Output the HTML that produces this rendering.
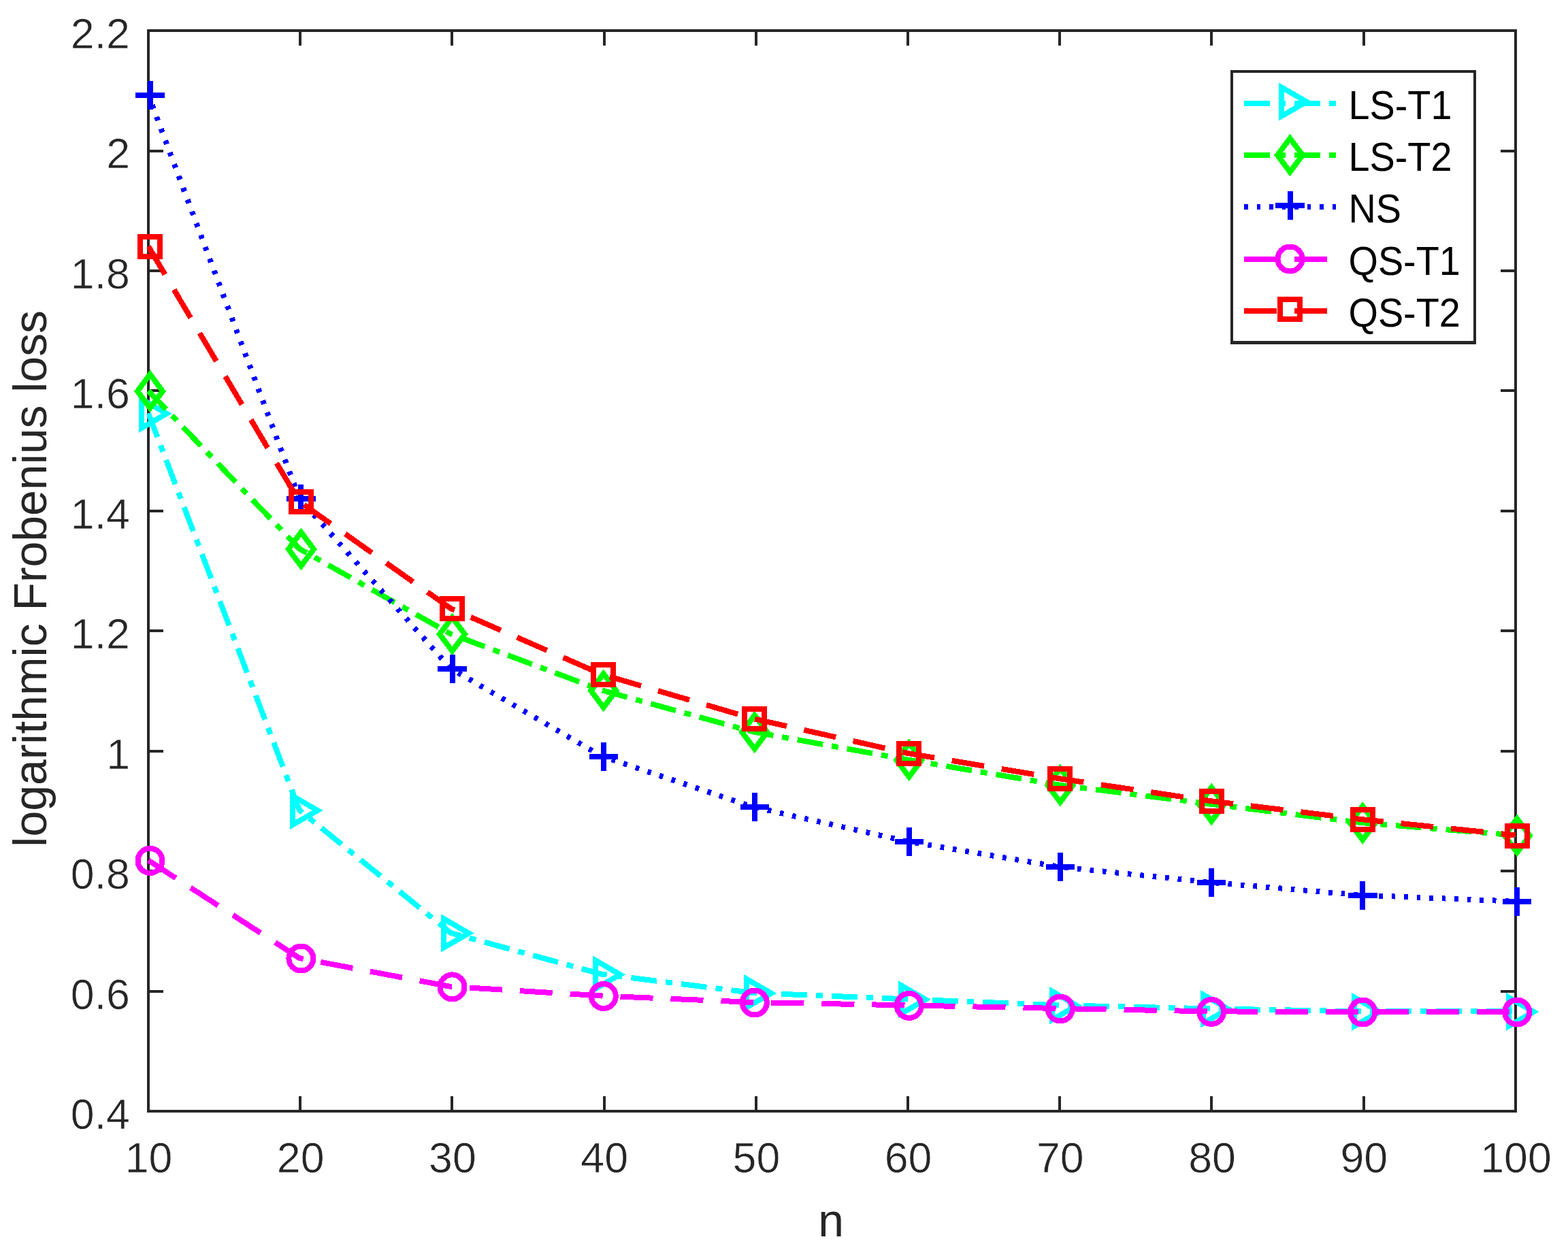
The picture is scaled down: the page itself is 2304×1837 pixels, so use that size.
<!DOCTYPE html>
<html lang="en"><head><meta charset="utf-8"><title>logarithmic Frobenius loss vs n</title>
<style>html,body{margin:0;padding:0;background:#fff}body{width:2304px;height:1837px;overflow:hidden}svg{display:block}text{font-family:"Liberation Sans",Arial,Helvetica,sans-serif}</style>
</head><body>
<svg width="2304" height="1837" viewBox="0 0 2304 1837">
<rect x="0" y="0" width="2304" height="1837" fill="#ffffff"/>
<g stroke="#262626" stroke-width="4" fill="none" shape-rendering="crispEdges">
<rect x="218" y="45" width="2009" height="1588"/>
<path d="M441 1633V1611M441 45V67M664 1633V1611M664 45V67M888 1633V1611M888 45V67M1111 1633V1611M1111 45V67M1334 1633V1611M1334 45V67M1557 1633V1611M1557 45V67M1780 1633V1611M1780 45V67M2004 1633V1611M2004 45V67M218 1457H240M2227 1457H2205M218 1280H240M2227 1280H2205M218 1104H240M2227 1104H2205M218 927H240M2227 927H2205M218 751H240M2227 751H2205M218 574H240M2227 574H2205M218 398H240M2227 398H2205M218 222H240M2227 222H2205"/>
</g>
<g fill="#262626" font-size="62.7" stroke="#ffffff" stroke-width="0.6" stroke-linejoin="round">
<text transform="translate(218.5 1723) scale(1 1.01)" text-anchor="middle">10</text>
<text transform="translate(441.72 1723) scale(1 1.01)" text-anchor="middle">20</text>
<text transform="translate(664.94 1723) scale(1 1.01)" text-anchor="middle">30</text>
<text transform="translate(888.17 1723) scale(1 1.01)" text-anchor="middle">40</text>
<text transform="translate(1111.39 1723) scale(1 1.01)" text-anchor="middle">50</text>
<text transform="translate(1334.61 1723) scale(1 1.01)" text-anchor="middle">60</text>
<text transform="translate(1557.83 1723) scale(1 1.01)" text-anchor="middle">70</text>
<text transform="translate(1781.06 1723) scale(1 1.01)" text-anchor="middle">80</text>
<text transform="translate(2004.28 1723) scale(1 1.01)" text-anchor="middle">90</text>
<text transform="translate(2227.5 1723) scale(1 1.01)" text-anchor="middle">100</text>
<text transform="translate(191 1659) scale(1 1.01)" text-anchor="end">0.4</text>
<text transform="translate(191 1482.56) scale(1 1.01)" text-anchor="end">0.6</text>
<text transform="translate(191 1306.11) scale(1 1.01)" text-anchor="end">0.8</text>
<text transform="translate(191 1129.67) scale(1 1.01)" text-anchor="end">1</text>
<text transform="translate(191 953.22) scale(1 1.01)" text-anchor="end">1.2</text>
<text transform="translate(191 776.78) scale(1 1.01)" text-anchor="end">1.4</text>
<text transform="translate(191 600.33) scale(1 1.01)" text-anchor="end">1.6</text>
<text transform="translate(191 423.89) scale(1 1.01)" text-anchor="end">1.8</text>
<text transform="translate(191 247.44) scale(1 1.01)" text-anchor="end">2</text>
<text transform="translate(191 71) scale(1 1.01)" text-anchor="end">2.2</text>
</g>
<g fill="#262626" font-size="67.9" text-anchor="middle">
<text transform="translate(1221 1817) scale(1 1.02)">n</text>
<text transform="translate(68 850.3) rotate(-90) scale(1 1.02)">logarithmic Frobenius loss</text>
</g>
<defs><clipPath id="ax"><rect x="216" y="43" width="2013" height="1592"/></clipPath></defs>
<g shape-rendering="crispEdges">
<polyline clip-path="url(#ax)" points="218,607.3 439.9,1190.5 662,1370.9 884.3,1431.7 1106.3,1459.1 1333.3,1468.4 1555.4,1477.3 1777.7,1482.3 1999.8,1486.4 2226.7,1486.4" fill="none" stroke="#00ffff" stroke-width="8" stroke-dasharray="38.03 13 10 13" stroke-dashoffset="0.5" stroke-linejoin="bevel"/>
<polygon points="208.35,586.76 244.8,607.8 208.35,628.84" fill="none" stroke="#00ffff" stroke-width="8" stroke-linejoin="miter" stroke-miterlimit="10"/>
<polygon points="430.25,1169.96 466.7,1191 430.25,1212.04" fill="none" stroke="#00ffff" stroke-width="8" stroke-linejoin="miter" stroke-miterlimit="10"/>
<polygon points="652.35,1350.36 688.8,1371.4 652.35,1392.44" fill="none" stroke="#00ffff" stroke-width="8" stroke-linejoin="miter" stroke-miterlimit="10"/>
<polygon points="874.65,1411.16 911.1,1432.2 874.65,1453.24" fill="none" stroke="#00ffff" stroke-width="8" stroke-linejoin="miter" stroke-miterlimit="10"/>
<polygon points="1096.65,1438.56 1133.1,1459.6 1096.65,1480.64" fill="none" stroke="#00ffff" stroke-width="8" stroke-linejoin="miter" stroke-miterlimit="10"/>
<polygon points="1323.65,1447.86 1360.1,1468.9 1323.65,1489.94" fill="none" stroke="#00ffff" stroke-width="8" stroke-linejoin="miter" stroke-miterlimit="10"/>
<polygon points="1545.75,1456.76 1582.2,1477.8 1545.75,1498.84" fill="none" stroke="#00ffff" stroke-width="8" stroke-linejoin="miter" stroke-miterlimit="10"/>
<polygon points="1768.05,1461.76 1804.5,1482.8 1768.05,1503.84" fill="none" stroke="#00ffff" stroke-width="8" stroke-linejoin="miter" stroke-miterlimit="10"/>
<polygon points="1990.15,1465.86 2026.6,1486.9 1990.15,1507.94" fill="none" stroke="#00ffff" stroke-width="8" stroke-linejoin="miter" stroke-miterlimit="10"/>
<polygon points="2217.05,1465.86 2253.5,1486.9 2217.05,1507.94" fill="none" stroke="#00ffff" stroke-width="8" stroke-linejoin="miter" stroke-miterlimit="10"/>
<polyline clip-path="url(#ax)" points="218,574.4 439.9,806.5 662,931.5 884.3,1014.4 1106.3,1075.4 1333.3,1116.4 1555.4,1153.5 1777.7,1181.5 1999.8,1209 2226.7,1227.5" fill="none" stroke="#00ff00" stroke-width="8" stroke-dasharray="38.03 13 10 13" stroke-dashoffset="0.5" stroke-linejoin="bevel"/>
<polygon points="220.5,550.1 239,574.9 220.5,599.7 202,574.9" fill="none" stroke="#00ff00" stroke-width="8" stroke-linejoin="miter" stroke-miterlimit="10"/>
<polygon points="442.4,782.2 460.9,807 442.4,831.8 423.9,807" fill="none" stroke="#00ff00" stroke-width="8" stroke-linejoin="miter" stroke-miterlimit="10"/>
<polygon points="664.5,907.2 683,932 664.5,956.8 646,932" fill="none" stroke="#00ff00" stroke-width="8" stroke-linejoin="miter" stroke-miterlimit="10"/>
<polygon points="886.8,990.1 905.3,1014.9 886.8,1039.7 868.3,1014.9" fill="none" stroke="#00ff00" stroke-width="8" stroke-linejoin="miter" stroke-miterlimit="10"/>
<polygon points="1108.8,1051.1 1127.3,1075.9 1108.8,1100.7 1090.3,1075.9" fill="none" stroke="#00ff00" stroke-width="8" stroke-linejoin="miter" stroke-miterlimit="10"/>
<polygon points="1335.8,1092.1 1354.3,1116.9 1335.8,1141.7 1317.3,1116.9" fill="none" stroke="#00ff00" stroke-width="8" stroke-linejoin="miter" stroke-miterlimit="10"/>
<polygon points="1557.9,1129.2 1576.4,1154 1557.9,1178.8 1539.4,1154" fill="none" stroke="#00ff00" stroke-width="8" stroke-linejoin="miter" stroke-miterlimit="10"/>
<polygon points="1780.2,1157.2 1798.7,1182 1780.2,1206.8 1761.7,1182" fill="none" stroke="#00ff00" stroke-width="8" stroke-linejoin="miter" stroke-miterlimit="10"/>
<polygon points="2002.3,1184.7 2020.8,1209.5 2002.3,1234.3 1983.8,1209.5" fill="none" stroke="#00ff00" stroke-width="8" stroke-linejoin="miter" stroke-miterlimit="10"/>
<polygon points="2229.2,1203.2 2247.7,1228 2229.2,1252.8 2210.7,1228" fill="none" stroke="#00ff00" stroke-width="8" stroke-linejoin="miter" stroke-miterlimit="10"/>
<polyline clip-path="url(#ax)" points="218,139.5 439.9,732.5 662,982.2 884.3,1111.5 1106.3,1185.7 1333.3,1236.7 1555.4,1273.7 1777.7,1296.7 1999.8,1315.5 2226.7,1324.7" fill="none" stroke="#0000ff" stroke-width="8" stroke-dasharray="5.6 12.94" stroke-dashoffset="2.5" stroke-linejoin="bevel"/>
<path d="M199.3 140H241.7M220.5 118.8V161.2" fill="none" stroke="#0000ff" stroke-width="8"/>
<path d="M421.2 733H463.6M442.4 711.8V754.2" fill="none" stroke="#0000ff" stroke-width="8"/>
<path d="M643.3 982.7H685.7M664.5 961.5V1003.9" fill="none" stroke="#0000ff" stroke-width="8"/>
<path d="M865.6 1112H908M886.8 1090.8V1133.2" fill="none" stroke="#0000ff" stroke-width="8"/>
<path d="M1087.6 1186.2H1130M1108.8 1165V1207.4" fill="none" stroke="#0000ff" stroke-width="8"/>
<path d="M1314.6 1237.2H1357M1335.8 1216V1258.4" fill="none" stroke="#0000ff" stroke-width="8"/>
<path d="M1536.7 1274.2H1579.1M1557.9 1253V1295.4" fill="none" stroke="#0000ff" stroke-width="8"/>
<path d="M1759 1297.2H1801.4M1780.2 1276V1318.4" fill="none" stroke="#0000ff" stroke-width="8"/>
<path d="M1981.1 1316H2023.5M2002.3 1294.8V1337.2" fill="none" stroke="#0000ff" stroke-width="8"/>
<path d="M2208 1325.2H2250.4M2229.2 1304V1346.4" fill="none" stroke="#0000ff" stroke-width="8"/>
<polyline clip-path="url(#ax)" points="218,1264.4 439.9,1408 662,1449.9 884.3,1463.5 1106.3,1473 1333.3,1477.4 1555.4,1482 1777.7,1486.4 1999.8,1487 2226.7,1487" fill="none" stroke="#ff00ff" stroke-width="8" stroke-dasharray="48.03 26" stroke-dashoffset="0" stroke-linejoin="bevel"/>
<circle cx="220.5" cy="1264.9" r="18" fill="none" stroke="#ff00ff" stroke-width="8"/>
<circle cx="442.4" cy="1408.5" r="18" fill="none" stroke="#ff00ff" stroke-width="8"/>
<circle cx="664.5" cy="1450.4" r="18" fill="none" stroke="#ff00ff" stroke-width="8"/>
<circle cx="886.8" cy="1464" r="18" fill="none" stroke="#ff00ff" stroke-width="8"/>
<circle cx="1108.8" cy="1473.5" r="18" fill="none" stroke="#ff00ff" stroke-width="8"/>
<circle cx="1335.8" cy="1477.9" r="18" fill="none" stroke="#ff00ff" stroke-width="8"/>
<circle cx="1557.9" cy="1482.5" r="18" fill="none" stroke="#ff00ff" stroke-width="8"/>
<circle cx="1780.2" cy="1486.9" r="18" fill="none" stroke="#ff00ff" stroke-width="8"/>
<circle cx="2002.3" cy="1487.5" r="18" fill="none" stroke="#ff00ff" stroke-width="8"/>
<circle cx="2229.2" cy="1487.5" r="18" fill="none" stroke="#ff00ff" stroke-width="8"/>
<polyline clip-path="url(#ax)" points="218,362 439.9,737.1 662,894 884.3,991 1106.3,1056 1333.3,1106.9 1555.4,1144 1777.7,1177 1999.8,1204 2226.7,1227.5" fill="none" stroke="#ff0000" stroke-width="8" stroke-dasharray="48.03 26" stroke-dashoffset="0" stroke-linejoin="bevel"/>
<rect x="206" y="348" width="29" height="29" fill="none" stroke="#ff0000" stroke-width="8"/>
<rect x="427.9" y="723.1" width="29" height="29" fill="none" stroke="#ff0000" stroke-width="8"/>
<rect x="650" y="880" width="29" height="29" fill="none" stroke="#ff0000" stroke-width="8"/>
<rect x="872.3" y="977" width="29" height="29" fill="none" stroke="#ff0000" stroke-width="8"/>
<rect x="1094.3" y="1042" width="29" height="29" fill="none" stroke="#ff0000" stroke-width="8"/>
<rect x="1321.3" y="1092.9" width="29" height="29" fill="none" stroke="#ff0000" stroke-width="8"/>
<rect x="1543.4" y="1130" width="29" height="29" fill="none" stroke="#ff0000" stroke-width="8"/>
<rect x="1765.7" y="1163" width="29" height="29" fill="none" stroke="#ff0000" stroke-width="8"/>
<rect x="1987.8" y="1190" width="29" height="29" fill="none" stroke="#ff0000" stroke-width="8"/>
<rect x="2214.7" y="1213.5" width="29" height="29" fill="none" stroke="#ff0000" stroke-width="8"/>
</g>
<rect x="1808" y="103" width="361" height="403" fill="#262626" shape-rendering="crispEdges"/>
<rect x="1812" y="107" width="353" height="394" fill="#ffffff" shape-rendering="crispEdges"/>
<g shape-rendering="crispEdges">
<path d="M1828 152H1964" fill="none" stroke="#00ffff" stroke-width="8" stroke-dasharray="38.03 13 10 13"/>
<polygon points="1883.35,128.46 1919.8,149.5 1883.35,170.54" fill="none" stroke="#00ffff" stroke-width="8" stroke-linejoin="miter" stroke-miterlimit="10"/>
<path d="M1828 228H1964" fill="none" stroke="#00ff00" stroke-width="8" stroke-dasharray="38.03 13 10 13"/>
<polygon points="1895.5,203.2 1914,228 1895.5,252.8 1877,228" fill="none" stroke="#00ff00" stroke-width="8" stroke-linejoin="miter" stroke-miterlimit="10"/>
<path d="M1828 304H1964" fill="none" stroke="#0000ff" stroke-width="8" stroke-dasharray="5.6 12.94"/>
<path d="M1874.3 302H1916.7M1895.5 280.8V323.2" fill="none" stroke="#0000ff" stroke-width="8"/>
<path d="M1828 381H1964" fill="none" stroke="#ff00ff" stroke-width="8" stroke-dasharray="48.03 26"/>
<circle cx="1895.5" cy="380.5" r="18" fill="none" stroke="#ff00ff" stroke-width="8"/>
<path d="M1828 457H1964" fill="none" stroke="#ff0000" stroke-width="8" stroke-dasharray="48.03 26"/>
<rect x="1881" y="440" width="29" height="29" fill="none" stroke="#ff0000" stroke-width="8"/>
</g>
<g fill="#000000" font-size="55.8">
<text transform="translate(1981.5 175) scale(1 1.05)">LS-T1</text>
<text transform="translate(1981.5 251) scale(1 1.05)">LS-T2</text>
<text transform="translate(1981.5 327) scale(1 1.05)">NS</text>
<text transform="translate(1981.5 404) scale(1 1.05)">QS-T1</text>
<text transform="translate(1981.5 480) scale(1 1.05)">QS-T2</text>
</g>
</svg></body></html>
